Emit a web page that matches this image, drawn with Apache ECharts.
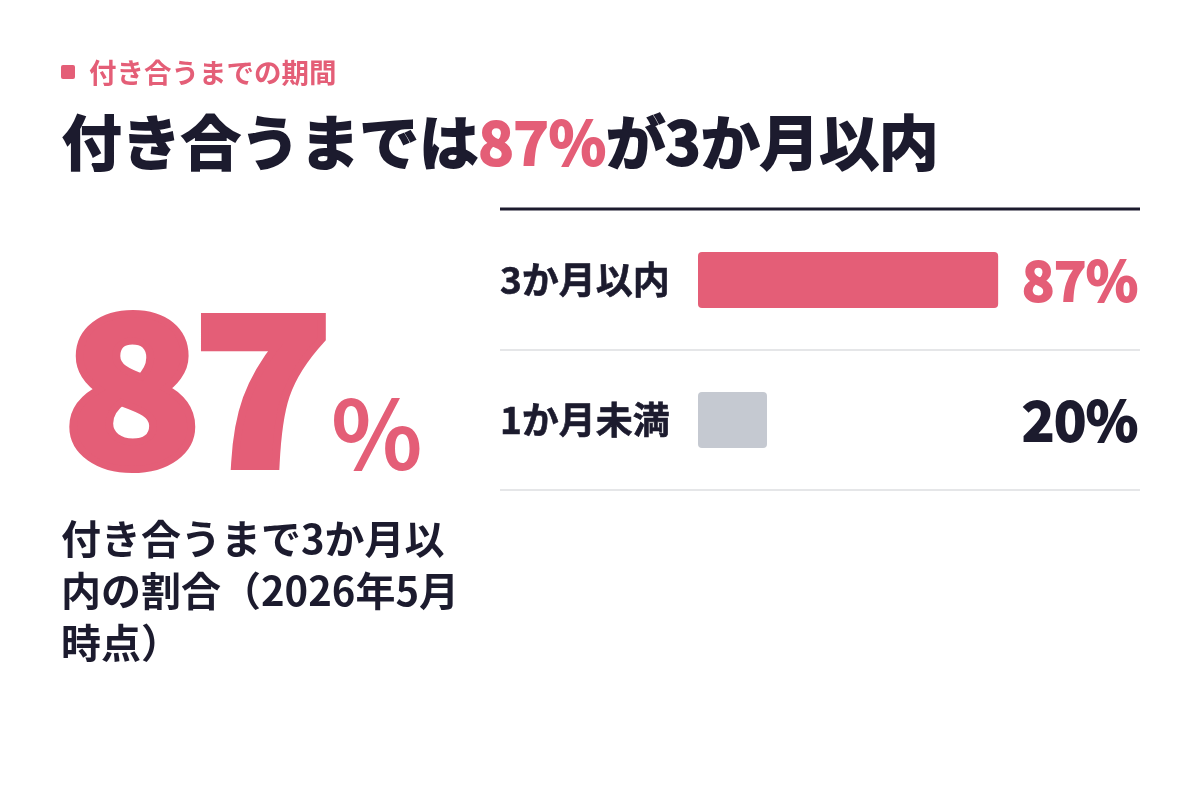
<!DOCTYPE html>
<html>
<head>
<meta charset="utf-8">
<script src="https://cdn.jsdelivr.net/npm/echarts@6/dist/echarts.min.js"></script>
<style>
    html, body { margin: 0; padding: 0; background: #fff; }
    #chart { width: 1200px; height: 800px; }
</style>
</head>
<body>
<div id="chart"></div>
<script>
(function () {

    'use strict';

    // 分類と値
    var categories = ['3か月以内', '1か月未満'],
        values = [87, 20],
        barColors = ['#E45E77', '#C5C9D1'],
        valueColors = ['#E45E77', '#1C1B2E'],
        kicker = '付き合うまでの期間',
        caption = ['付き合うまで3か月以', '内の割合（2026年5月', '時点）'];

    var PINK = '#E45E77',
        DARK = '#1C1B2E',
        FONT = '"Noto Sans CJK JP", "Noto Sans", sans-serif';

    var myChart = echarts.init(document.getElementById('chart'));

    var option = {
        backgroundColor: '#ffffff',
        textStyle: { fontFamily: FONT },
        grid: {
            left: 698,
            right: 157,
            top: 210,
            height: 280
        },
        xAxis: {
            type: 'value',
            min: 0,
            max: 100,
            show: false
        },
        yAxis: [{
            type: 'category',
            data: categories,
            inverse: true,
            axisLine: { show: false },
            axisTick: { show: false },
            splitLine: { show: false },
            axisLabel: {
                align: 'left',
                margin: 198,
                color: DARK,
                fontFamily: FONT,
                fontSize: 37,
                fontWeight: 'bold',
                textBorderColor: DARK,
                textBorderWidth: 0.6
            }
        }, {
            type: 'category',
            data: categories,
            inverse: true,
            position: 'right',
            axisLine: { show: false },
            axisTick: { show: false },
            splitLine: { show: false },
            axisLabel: {
                align: 'right',
                margin: 95,
                fontFamily: FONT,
                fontSize: 54,
                fontWeight: 'bold',
                formatter: function (v, i) {
                    return '{v' + i + '|' + values[i] + '%}';
                },
                rich: {
                    v0: { color: valueColors[0], fontSize: 54, fontWeight: 'bold', fontFamily: FONT,
                          textBorderColor: valueColors[0], textBorderWidth: 2 },
                    v1: { color: valueColors[1], fontSize: 54, fontWeight: 'bold', fontFamily: FONT,
                          textBorderColor: valueColors[1], textBorderWidth: 2 }
                }
            }
        }],
        series: [{
            type: 'bar',
            barWidth: 56,
            data: values.map(function (v, i) {
                return {
                    value: v,
                    itemStyle: { color: barColors[i], borderRadius: 4 }
                };
            })
        }],
        graphic: [
            // 見出しの四角
            { type: 'rect', left: 61, top: 65, shape: { width: 14, height: 14, r: 2 }, style: { fill: PINK } },
            {
                type: 'text', left: 89, top: 59,
                style: { text: kicker, fill: PINK, font: 'bold 27.5px ' + FONT }
            },
            {
                type: 'text', left: 61, top: 112,
                style: {
                    text: '{a|付き合うまでは}{b|' + values[0] + '%}{a|が3か月以内}',
                    rich: {
                        a: { fill: DARK, fontSize: 59.5, fontWeight: 'bold', fontFamily: FONT,
                             stroke: DARK, lineWidth: 2 },
                        b: { fill: PINK, fontSize: 59.5, fontWeight: 'bold', fontFamily: FONT,
                             stroke: PINK, lineWidth: 2 }
                    }
                }
            },
            // 区切り線
            { type: 'line', shape: { x1: 500, y1: 209, x2: 1140, y2: 209 }, style: { stroke: DARK, lineWidth: 3 } },
            { type: 'line', shape: { x1: 500, y1: 350, x2: 1140, y2: 350 }, style: { stroke: '#E5E6E8', lineWidth: 2 } },
            { type: 'line', shape: { x1: 500, y1: 490, x2: 1140, y2: 490 }, style: { stroke: '#E5E6E8', lineWidth: 2 } },
            // 大きい数字
            {
                type: 'text', left: 59, top: 282, scaleX: 1.12,
                style: { text: String(values[0]), fill: PINK, font: 'bold 198px ' + FONT,
                         stroke: PINK, lineWidth: 14, lineJoin: 'round' }
            },
            {
                type: 'text', left: 331, top: 386,
                style: { text: '%', fill: PINK, font: 'bold 95px ' + FONT }
            },
            {
                type: 'text', left: 61, top: 513,
                style: {
                    text: caption.join('\n'),
                    fill: DARK,
                    font: 'bold 40px ' + FONT,
                    lineHeight: 52
                }
            }
        ]
    };

    myChart.setOption(option);
})();
</script>
</body>
</html>
